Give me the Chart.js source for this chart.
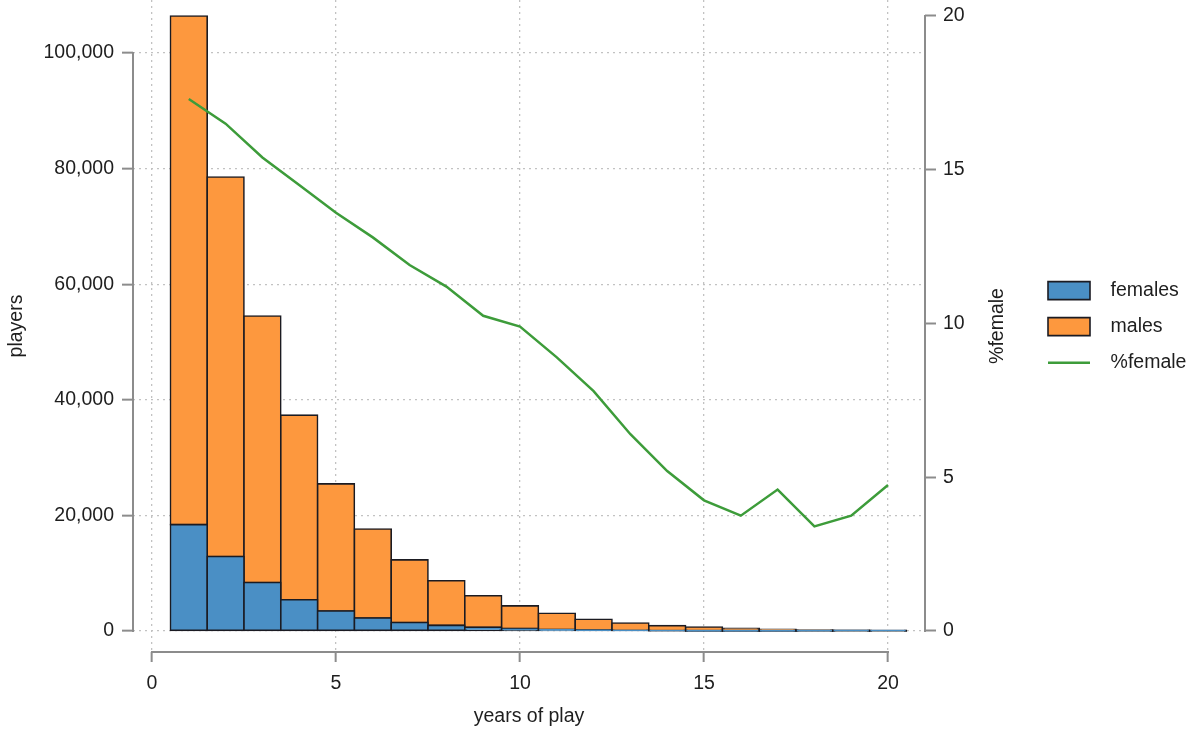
<!DOCTYPE html>
<html>
<head>
<meta charset="utf-8">
<script src="https://cdn.jsdelivr.net/npm/chart.js@4"></script>
<style>
  html, body { margin: 0; padding: 0; background: #fff; }
</style>
</head>
<body>
<canvas id="playersChart" width="1186" height="732"></canvas>
<script>
// years of play, 1..20
const years = [1, 2, 3, 4, 5, 6, 7, 8, 9, 10, 11, 12, 13, 14, 15, 16, 17, 18, 19, 20];
const females = [18400, 12900, 8400, 5400, 3450, 2260, 1460, 975, 625, 430, 272, 158, 89, 48, 29, 17, 13, 6, 4, 3];
const males = [88000, 65650, 46100, 31950, 22000, 15390, 10840, 7725, 5475, 3920, 2788, 1872, 1301, 882, 671, 433, 277, 174, 96, 67];
const pctFemale = [17.3, 16.5, 15.4, 14.5, 13.6, 12.8, 11.9, 11.2, 10.25, 9.9, 8.9, 7.8, 6.4, 5.2, 4.25, 3.75, 4.6, 3.4, 3.75, 4.75];

const xTicks = [0, 5, 10, 15, 20];
const playerTicks = [0, 20000, 40000, 60000, 80000, 100000];
const pctTicks = [0, 5, 10, 15, 20];

const FONT = "'Liberation Sans', Arial, sans-serif";
const TEXT = '#1e1e1e';
const AXIS = '#8c8c8c';
const GRID = '#c2c2c2';

Chart.defaults.font.family = FONT;
Chart.defaults.font.size = 19.5;
Chart.defaults.color = TEXT;

const toPoints = (vals) => years.map((yr, i) => ({ x: yr, y: vals[i] }));
const setTicks = (list) => (scale) => { scale.ticks = list.map(v => ({ value: v })); };
const noPad = (s) => { s.paddingTop = 0; s.paddingBottom = 0; s.paddingLeft = 0; s.paddingRight = 0; };

// stata-style axis lines that only span first..last tick, plus right title read bottom-up
const axisLines = {
    id: 'axisLines',
    afterDraw(chart) {
        const { ctx, chartArea, scales } = chart;
        ctx.save();
        ctx.strokeStyle = AXIS;
        ctx.lineWidth = 2;
        ctx.beginPath();
        ctx.moveTo(chartArea.left, scales.y.getPixelForValue(playerTicks[0]) + 1);
        ctx.lineTo(chartArea.left, scales.y.getPixelForValue(playerTicks[playerTicks.length - 1]) - 1);
        ctx.moveTo(chartArea.right, scales.yR.getPixelForValue(pctTicks[0]) + 1);
        ctx.lineTo(chartArea.right, scales.yR.getPixelForValue(pctTicks[pctTicks.length - 1]) - 1);
        ctx.moveTo(scales.x.getPixelForValue(xTicks[0]) - 1, chartArea.bottom);
        ctx.lineTo(scales.x.getPixelForValue(xTicks[xTicks.length - 1]) + 1, chartArea.bottom);
        ctx.stroke();

        ctx.translate(chartArea.right + 73, (chartArea.top + chartArea.bottom) / 2);
        ctx.rotate(-Math.PI / 2);
        ctx.fillStyle = TEXT;
        ctx.font = '19.5px ' + FONT;
        ctx.textAlign = 'center';
        ctx.textBaseline = 'middle';
        ctx.fillText('%female', 0, 0);
        ctx.restore();
    }
};

const ctx = document.getElementById('playersChart').getContext('2d');

new Chart(ctx, {
    type: 'bar',
    data: {
        datasets: [
            {
                label: 'females',
                data: toPoints(females),
                backgroundColor: '#4a8fc5',
                borderColor: '#1b1b22',
                borderWidth: 1.6,
                borderSkipped: false,
                inflateAmount: 0.8,
                barPercentage: 1,
                categoryPercentage: 1,
                pointStyle: 'rect',
                order: 1
            },
            {
                label: 'males',
                data: toPoints(males),
                backgroundColor: '#fd983e',
                borderColor: '#1b1b22',
                borderWidth: 1.6,
                borderSkipped: false,
                inflateAmount: 0.8,
                barPercentage: 1,
                categoryPercentage: 1,
                pointStyle: 'rect',
                order: 1
            },
            {
                type: 'line',
                label: '%female',
                data: toPoints(pctFemale),
                yAxisID: 'yR',
                borderColor: '#3d9c3a',
                borderWidth: 2.5,
                pointRadius: 0,
                tension: 0,
                fill: false,
                pointStyle: 'line',
                order: 0
            }
        ]
    },
    options: {
        responsive: false,
        animation: false,
        layout: { padding: 0 },
        scales: {
            x: {
                type: 'linear',
                position: 'bottom',
                stacked: true,
                offset: false,
                min: -0.516,
                max: 21.005,
                afterBuildTicks: setTicks(xTicks),
                afterFit: (s) => { s.height = 80; noPad(s); },
                ticks: { padding: 10, maxRotation: 0, callback: (v) => String(v) },
                grid: {
                    offset: false,
                    color: GRID,
                    lineWidth: 1.3,
                    drawTicks: true,
                    tickLength: 10,
                    tickColor: AXIS,
                    tickWidth: 2,
                    tickBorderDash: []
                },
                border: { display: false, dash: [2, 4] },
                title: { display: true, text: 'years of play', padding: { top: 0, bottom: 4 } }
            },
            y: {
                type: 'linear',
                position: 'left',
                stacked: true,
                min: -3633,
                max: 109170,
                afterBuildTicks: setTicks(playerTicks),
                afterFit: (s) => { s.width = 133; noPad(s); },
                ticks: { padding: 8, callback: (v) => v.toLocaleString('en-US') },
                grid: {
                    color: GRID,
                    lineWidth: 1.3,
                    drawTicks: true,
                    tickLength: 11,
                    tickColor: AXIS,
                    tickWidth: 2,
                    tickBorderDash: []
                },
                border: { display: false, dash: [2, 4] },
                title: { display: true, text: 'players', padding: { top: 5, bottom: 0 } }
            },
            yR: {
                type: 'linear',
                position: 'right',
                min: -0.683,
                max: 20.52,
                afterBuildTicks: setTicks(pctTicks),
                afterFit: (s) => {
                    const lg = s.chart.legend;
                    s.width = s.chart.width - 925 - (lg ? lg.width : 0);
                    noPad(s);
                },
                ticks: { padding: 7, callback: (v) => String(v) },
                grid: {
                    drawOnChartArea: false,
                    drawTicks: true,
                    tickLength: 11,
                    tickColor: AXIS,
                    tickWidth: 2,
                    tickBorderDash: []
                },
                border: { display: false }
            }
        },
        plugins: {
            tooltip: { enabled: false },
            legend: {
                position: 'right',
                align: 'start',
                maxWidth: 154.5,
                title: { display: true, text: '', padding: { top: 241, bottom: 0 } },
                labels: {
                    usePointStyle: true,
                    pointStyleWidth: 42,
                    boxWidth: 42,
                    boxHeight: 18,
                    padding: 16.5,
                    color: TEXT,
                    generateLabels(chart) {
                        const items = Chart.defaults.plugins.legend.labels.generateLabels(chart);
                        items.sort((a, b) => a.datasetIndex - b.datasetIndex);
                        return items.map(it => Object.assign(it, { text: '  ' + it.text }));
                    }
                }
            }
        }
    },
    plugins: [axisLines]
});
</script>
</body>
</html>
